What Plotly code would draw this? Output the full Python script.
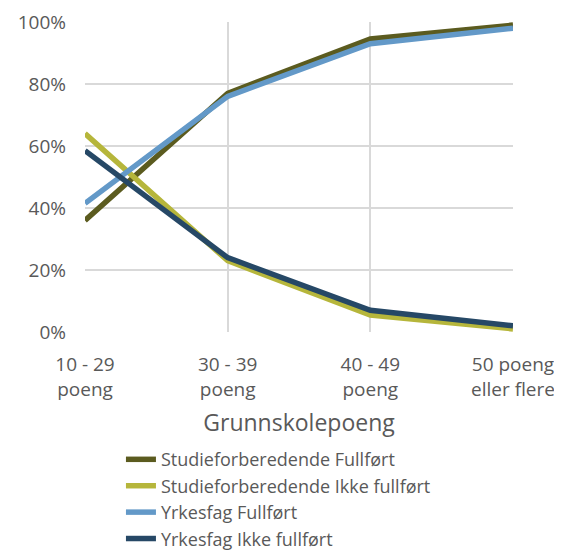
import plotly.graph_objects as go

categories = ["10 - 29<br>poeng", "30 - 39<br>poeng", "40 - 49<br>poeng", "50 poeng<br>eller flere"]
studie_fullfort = [0.36, 0.77, 0.945, 0.99]
studie_ikke = [0.64, 0.23, 0.055, 0.01]
yrkes_fullfort = [0.415, 0.76, 0.93, 0.98]
yrkes_ikke = [0.585, 0.24, 0.07, 0.02]

series = [
    ("Studieforberedende Fullført", studie_fullfort, "#5b5b1f"),
    ("Studieforberedende Ikke fullført", studie_ikke, "#b6b63b"),
    ("Yrkesfag Fullført", yrkes_fullfort, "#6399c8"),
    ("Yrkesfag Ikke fullført", yrkes_ikke, "#264866"),
]

font = "'Open Sans', Lato, sans-serif"
grey = "#595959"

# the page body adds an 8px offset, so the figure is sized/margined for that
fig = go.Figure()
for name, vals, col in series:
    fig.add_trace(go.Scatter(x=categories, y=vals, name=name, mode="lines",
                             line=dict(color=col, width=5.5)))

fig.update_layout(
    width=554, height=600,
    margin=dict(l=77, r=49, t=14, b=276),
    plot_bgcolor="white", paper_bgcolor="white",
    font=dict(family=font, size=18, color=grey),
    showlegend=True,
    legend=dict(x=0.084, y=-0.352, xanchor="left", yanchor="top",
                font=dict(size=18, color=grey), tracegroupgap=0,
                bgcolor="rgba(0,0,0,0)"),
    xaxis=dict(type="category", range=[0, 3], showgrid=True, gridcolor="#d9d9d9",
               gridwidth=1.5, ticks="", showline=False, zeroline=False,
               automargin=False, ticklabelstandoff=19,
               title=dict(text="Grunnskolepoeng", font=dict(size=23, color=grey), standoff=14),
               tickfont=dict(size=19, color=grey)),
    yaxis=dict(range=[0, 1], tickformat=".0%", dtick=0.2, showgrid=True,
               gridcolor="#d9d9d9", gridwidth=1.5, zeroline=False, showline=False,
               automargin=False, ticks="", ticklabelstandoff=18,
               tickfont=dict(size=19, color=grey)),
)

fig.write_html("out.html")
